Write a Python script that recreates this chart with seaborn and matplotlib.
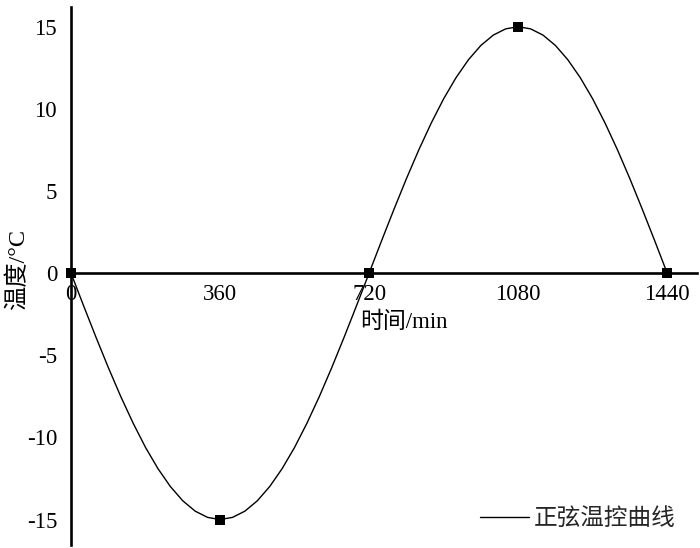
import matplotlib
matplotlib.use("Agg")
import matplotlib.pyplot as plt
import seaborn as sns
import pandas as pd

# curve values (every 30 min)
time_min = [0, 30, 60, 90, 120, 150, 180, 210, 240, 270, 300, 330, 360,
            390, 420, 450, 480, 510, 540, 570, 600, 630, 660, 690, 720,
            750, 780, 810, 840, 870, 900, 930, 960, 990, 1020, 1050, 1080,
            1110, 1140, 1170, 1200, 1230, 1260, 1290, 1320, 1350, 1380, 1410, 1440]
temp_c = [0, -1.96, -3.88, -5.74, -7.5, -9.13, -10.61, -11.9, -12.99, -13.86, -14.49, -14.87, -15,
          -14.87, -14.49, -13.86, -12.99, -11.9, -10.61, -9.13, -7.5, -5.74, -3.88, -1.96, 0,
          1.96, 3.88, 5.74, 7.5, 9.13, 10.61, 11.9, 12.99, 13.86, 14.49, 14.87, 15,
          14.87, 14.49, 13.86, 12.99, 11.9, 10.61, 9.13, 7.5, 5.74, 3.88, 1.96, 0]
marker_time = [0, 360, 720, 1080, 1440]
marker_temp = [0, -15, 0, 15, 0]
x_ticks = [0, 360, 720, 1080, 1440]
y_ticks = [-15, -10, -5, 0, 5, 10, 15]
series_name = "正弦温控曲线"

sns.set_theme(style="white")
FAM = ['Liberation Serif', 'Noto Sans CJK SC']
plt.rcParams['font.family'] = FAM
plt.rcParams['axes.unicode_minus'] = False

fig = plt.figure(figsize=(7, 5.48), dpi=100)
ax = fig.add_axes([71/700, 3/548, (697-71)/700, (543-5)/548])

curve = pd.DataFrame({"t": time_min, "T": temp_c})
pts = pd.DataFrame({"t": marker_time, "T": marker_temp})

sns.lineplot(data=curve, x="t", y="T", ax=ax, color="black", linewidth=1.0,
             label=series_name, sort=False)
sns.scatterplot(data=pts, x="t", y="T", ax=ax, color="black", marker="s",
                s=55, linewidth=0, zorder=5, clip_on=False, legend=False)

ax.set_xlim(0, 1512)
ax.set_ylim(-16.55, 16.2)
ax.set_xticks(x_ticks)
ax.set_yticks(y_ticks)
ax.set_xticklabels([str(v) for v in x_ticks])
ax.set_yticklabels([str(v) for v in y_ticks])

for s in ["top", "right"]:
    ax.spines[s].set_visible(False)
ax.spines["left"].set_position(("data", 0))
ax.spines["bottom"].set_position(("data", 0))
for s in ["left", "bottom"]:
    ax.spines[s].set_linewidth(1.9)
    ax.spines[s].set_color("black")

ax.tick_params(axis="both", direction="in", length=6, width=1.5, colors="black",
               labelsize=16.5, labelcolor="black")
ax.tick_params(axis="x", pad=8)
ax.tick_params(axis="y", pad=10)

ax.set_xlabel("")
ax.set_ylabel("")
fig.text(404/700, 1-322/548, "时间/min", ha="center", va="center", fontsize=16.5,
         color="black")
fig.text(18/700, 1-270/548, "温度/°C", ha="center", va="center", rotation=90,
         fontsize=17.5, color="black")

leg = ax.legend(loc="lower right", frameon=False, fontsize=17, handlelength=2.1,
                handletextpad=0.2, bbox_to_anchor=(1.0, -0.012))
for line in leg.get_lines():
    line.set_linewidth(1.0)

ax.grid(False)
fig.savefig("out.png", dpi=100)
